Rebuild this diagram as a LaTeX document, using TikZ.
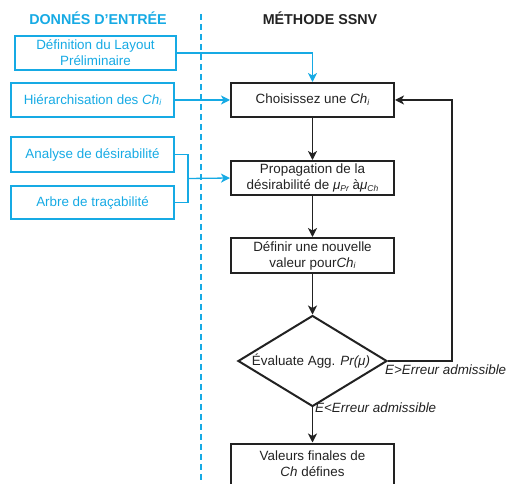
\documentclass[tikz,border=0pt]{standalone}
\usepackage{fontspec}
\setmainfont{Liberation Sans}
\usetikzlibrary{shapes.geometric,arrows.meta}
\definecolor{cy}{RGB}{22,170,228}
\definecolor{ink}{RGB}{34,34,34}
\newcommand\sbi[1]{\raisebox{-0.25ex}{\fontsize{8.5}{9}\selectfont\itshape #1}}
\begin{document}
\begin{tikzpicture}[x=1pt,y=-1pt,
  inbox/.style={draw=cy, line width=2pt, text=cy, minimum width=163pt, minimum height=34pt, inner sep=1pt, align=center, font=\fontsize{13.4}{16}\selectfont},
  mbox/.style={draw=ink, line width=2pt, text=ink, minimum width=163pt, minimum height=34pt, inner sep=1pt, align=center, font=\fontsize{13.4}{16}\selectfont},
  conn/.style={draw=ink, line width=1.1pt, -{Stealth[length=9pt,width=9pt,inset=2.5pt]}},
  cline/.style={draw=cy, line width=1.3pt},
  cconn/.style={cline, -{Stealth[length=9pt,width=9pt,inset=2.5pt]}},
  lab/.style={text=ink, inner sep=0pt, font=\fontsize{13.4}{16}\selectfont\itshape},
  ttl/.style={font=\fontsize{14.3}{17}\selectfont\bfseries, inner sep=0pt}]
\useasboundingbox (0,0) rectangle (507,484);
% titles
\node[ttl, text=cy] (t1) at (98,18) {DONNÉS D'ENTRÉE};
\node[ttl, text=ink] (t2) at (320,18) {MÉTHODE SSNV};
% dashed separator
\coordinate (sa) at (201,14);
\coordinate (sb) at (201,484);
\draw[cy, line width=1.6pt, dash pattern=on 6pt off 4pt] (sa) -- (sb);
% input boxes
\node[inbox, minimum width=161pt] (b1) at (95.5,53) {Définition du Layout\\Préliminaire};
\node[inbox] (b2) at (92.5,100) {Hiérarchisation des \textit{Ch}\sbi{i}};
\node[inbox, minimum height=35pt] (b3) at (92.5,154.5) {Analyse de désirabilité};
\node[inbox, minimum height=33pt] (b4) at (92.5,202.5) {Arbre de traçabilité};
% method boxes
\node[mbox] (c1) at (312.5,100) {Choisissez une \textit{Ch}\sbi{i}};
\node[mbox] (p) at (312.5,178) {Propagation de la\\désirabilité de \textit{μ}\sbi{Pr} à\textit{μ}\sbi{Ch}};
\node[mbox, minimum height=35pt] (d) at (312.5,255.5) {Définir une nouvelle\\valeur pour\textit{Ch}\sbi{i}};
\node[diamond, draw=ink, line width=2pt, minimum width=149pt, minimum height=91pt, inner sep=0pt] (dia) at (312.5,361) {};
\node[text=ink, inner sep=0pt, font=\fontsize{13.4}{16}\selectfont] (diat) at (311,361) {Évaluate Agg. \textit{Pr(μ)}};
\node[mbox, minimum height=41pt] (v) at (312.5,464) {Valeurs finales de\\\textit{Ch} défines};
% input connectors
\draw[cconn] (b1.east) -| (c1.north);
\draw[cconn] (b2.east) -- (c1.west);
\coordinate (j) at (188,178.5);
\draw[cline] (b3.east) -| (j);
\draw[cline] (b4.east) -| (j);
\draw[cconn] (j) -- (p.west);
% flow
\draw[conn] (c1) -- (p);
\draw[conn] (p) -- (d);
\draw[conn] (d) -- (dia.north);
\draw[conn] (dia.south) -- (v.north);
\coordinate (fb) at (452,361);
\draw[conn] (dia.east) -- (fb) |- (c1.east);
% labels
\node[lab, anchor=north west] (l1) at (385,365) {E>Erreur admissible};
\node[lab, anchor=north west] (l2) at (315,403) {E<Erreur admissible};
\end{tikzpicture}
\end{document}
